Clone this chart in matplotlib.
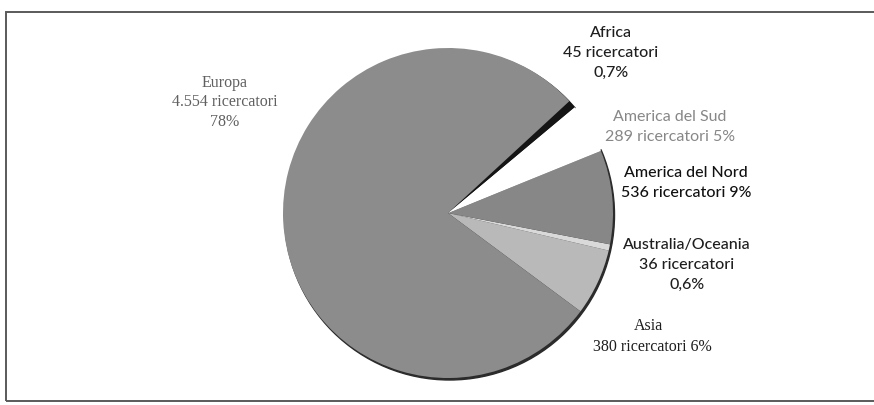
import matplotlib
matplotlib.use("Agg")
import matplotlib.pyplot as plt
from matplotlib.patches import Circle, Rectangle, Wedge

# Researchers per continent
regions = ["Asia", "Australia/Oceania", "America del Nord", "America del Sud", "Africa", "Europa"]
researchers = [380, 36, 536, 289, 45, 4554]
pct_labels = ["6%", "0,6%", "9%", "5%", "0,7%", "78%"]
count_labels = ["380", "36", "536", "289", "45", "4.554"]

slice_colors = ["#b9b9b9", "#d9d9d9", "#878787", "#ffffff", "#151515", "#8c8c8c"]

W, H = 874, 405
fig = plt.figure(figsize=(W / 100, H / 100), dpi=100)
ax = fig.add_axes([0, 0, 1, 1])

cx, cy, r = 448, H - 213, 165

# soft dark rim under the pie
ax.add_patch(Circle((cx + 1.5, cy - 2.0), r, color="#2b2b2b", zorder=1))

wedges, _ = ax.pie(researchers, colors=slice_colors, startangle=-36.6, counterclock=True,
                   center=(cx, cy), radius=r, frame=True,
                   wedgeprops=dict(linewidth=0))
for w in wedges:
    w.set_zorder(2)
# the white slice reads as a cut-out, so no rim under it
sud = wedges[regions.index("America del Sud")]
ax.add_patch(Wedge((cx, cy), r + 4, sud.theta1 + 0.5, sud.theta2 - 0.5,
                   color="white", linewidth=0, zorder=1.5))

# outer frame
ax.add_patch(Rectangle((6, H - 401), 880, 389, fill=False, edgecolor="#5a5a5a",
                       linewidth=1.4, zorder=0))

sans = ["Lato", "DejaVu Sans"]
serif = ["Liberation Serif", "DejaVu Serif"]

def label(x, y, lines, color, family, weight="normal", size=11.5, spacing=20):
    for k, line in enumerate(lines):
        ax.text(x, H - (y + k * spacing), line, ha="center", va="center",
                color=color, family=family, fontsize=size, weight=weight, zorder=5)

i = regions.index
label(225, 83, ["Europa", f"{count_labels[i('Europa')]} ricercatori", pct_labels[i('Europa')]],
      "#606060", serif, size=11.5, spacing=19.5)
label(611, 33, ["Africa", f"{count_labels[i('Africa')]} ricercatori", pct_labels[i('Africa')]],
      "#1e1e1e", sans, weight="medium")
label(670, 117, ["America del Sud", f"{count_labels[i('America del Sud')]} ricercatori {pct_labels[i('America del Sud')]}"],
      "#878787", sans)
label(686, 173, ["America del Nord", f"{count_labels[i('America del Nord')]} ricercatori {pct_labels[i('America del Nord')]}"],
      "#111111", sans, weight="medium")
label(687, 245, ["Australia/Oceania", f"{count_labels[i('Australia/Oceania')]} ricercatori", pct_labels[i('Australia/Oceania')]],
      "#1e1e1e", sans, weight="medium")
ax.text(648, H - 326, "Asia", ha="center", va="center", color="#1e1e1e",
        family=serif, fontsize=11.5, zorder=5)
ax.text(652, H - 347, f"{count_labels[i('Asia')]} ricercatori {pct_labels[i('Asia')]}",
        ha="center", va="center", color="#1e1e1e", family=serif, fontsize=11.5, zorder=5)

ax.set_xlim(0, W)
ax.set_ylim(0, H)
ax.set_aspect("auto")
ax.set_axis_off()

fig.savefig("out.png", dpi=100, facecolor="white")
